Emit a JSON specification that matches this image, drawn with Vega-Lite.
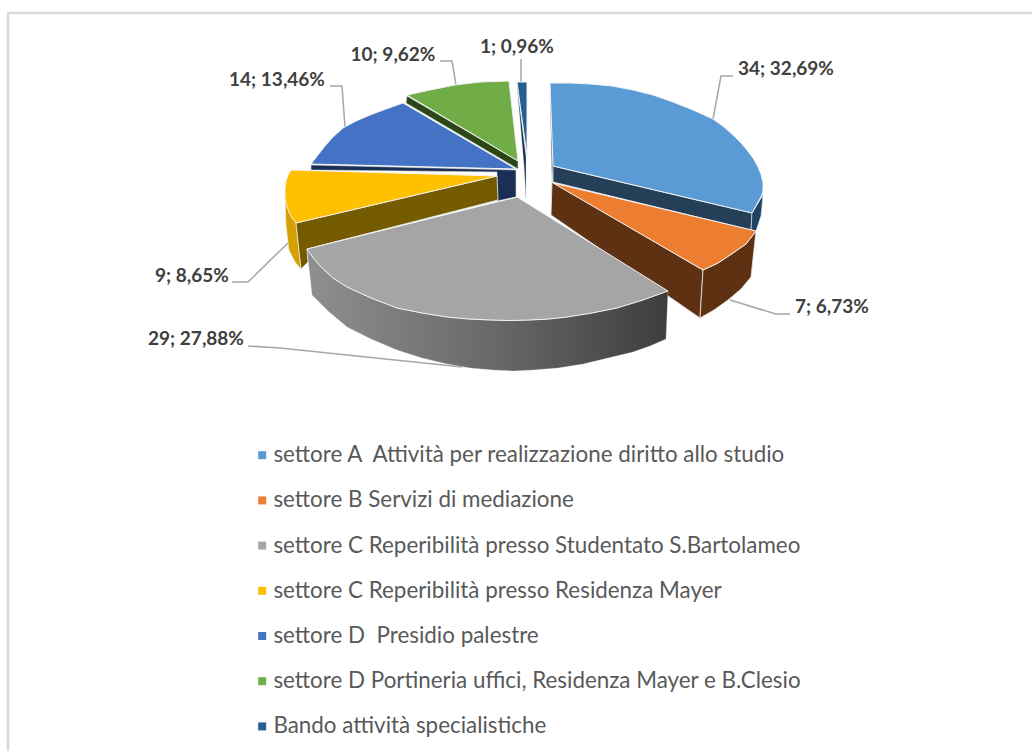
{
"$schema":"https://vega.github.io/schema/vega-lite/v6.json",
"width":1032,"height":751,"padding":0,"autosize":"none","background":"white",
"config":{"view":{"stroke":null},"font":"Lato"},
"datasets":{
"tops":[
{"s":"settore A  Attività per realizzazione diritto allo studio","o":1,"x":550,"y":83},{"s":"settore A  Attività per realizzazione diritto allo studio","o":2,"x":570,"y":83},{"s":"settore A  Attività per realizzazione diritto allo studio","o":3,"x":590,"y":84},{"s":"settore A  Attività per realizzazione diritto allo studio","o":4,"x":612,"y":86},{"s":"settore A  Attività per realizzazione diritto allo studio","o":5,"x":633,"y":90},{"s":"settore A  Attività per realizzazione diritto allo studio","o":6,"x":653,"y":95},{"s":"settore A  Attività per realizzazione diritto allo studio","o":7,"x":673,"y":102},{"s":"settore A  Attività per realizzazione diritto allo studio","o":8,"x":693,"y":110},{"s":"settore A  Attività per realizzazione diritto allo studio","o":9,"x":713,"y":119},{"s":"settore A  Attività per realizzazione diritto allo studio","o":10,"x":724,"y":127},{"s":"settore A  Attività per realizzazione diritto allo studio","o":11,"x":733,"y":135},{"s":"settore A  Attività per realizzazione diritto allo studio","o":12,"x":741,"y":143},{"s":"settore A  Attività per realizzazione diritto allo studio","o":13,"x":747,"y":150},{"s":"settore A  Attività per realizzazione diritto allo studio","o":14,"x":753,"y":158},{"s":"settore A  Attività per realizzazione diritto allo studio","o":15,"x":757,"y":165},{"s":"settore A  Attività per realizzazione diritto allo studio","o":16,"x":761,"y":174},{"s":"settore A  Attività per realizzazione diritto allo studio","o":17,"x":763,"y":183},{"s":"settore A  Attività per realizzazione diritto allo studio","o":18,"x":763,"y":190},{"s":"settore A  Attività per realizzazione diritto allo studio","o":19,"x":762,"y":195},{"s":"settore A  Attività per realizzazione diritto allo studio","o":20,"x":752,"y":213},{"s":"settore A  Attività per realizzazione diritto allo studio","o":21,"x":553,"y":166},{"s":"settore A  Attività per realizzazione diritto allo studio","o":22,"x":550,"y":83},
{"s":"settore B Servizi di mediazione","o":1,"x":553,"y":183},{"s":"settore B Servizi di mediazione","o":2,"x":756,"y":231},{"s":"settore B Servizi di mediazione","o":3,"x":746,"y":244},{"s":"settore B Servizi di mediazione","o":4,"x":733,"y":253},{"s":"settore B Servizi di mediazione","o":5,"x":718,"y":263},{"s":"settore B Servizi di mediazione","o":6,"x":703,"y":270},{"s":"settore B Servizi di mediazione","o":7,"x":553,"y":183},
{"s":"settore C Reperibilità presso Studentato S.Bartolameo","o":1,"x":517,"y":197},{"s":"settore C Reperibilità presso Studentato S.Bartolameo","o":2,"x":668,"y":291},{"s":"settore C Reperibilità presso Studentato S.Bartolameo","o":3,"x":643,"y":300},{"s":"settore C Reperibilità presso Studentato S.Bartolameo","o":4,"x":617,"y":308},{"s":"settore C Reperibilità presso Studentato S.Bartolameo","o":5,"x":592,"y":313},{"s":"settore C Reperibilità presso Studentato S.Bartolameo","o":6,"x":567,"y":317},{"s":"settore C Reperibilità presso Studentato S.Bartolameo","o":7,"x":549,"y":319},{"s":"settore C Reperibilità presso Studentato S.Bartolameo","o":8,"x":530,"y":320},{"s":"settore C Reperibilità presso Studentato S.Bartolameo","o":9,"x":510,"y":320.5},{"s":"settore C Reperibilità presso Studentato S.Bartolameo","o":10,"x":490,"y":320},{"s":"settore C Reperibilità presso Studentato S.Bartolameo","o":11,"x":468,"y":319},{"s":"settore C Reperibilità presso Studentato S.Bartolameo","o":12,"x":447,"y":317},{"s":"settore C Reperibilità presso Studentato S.Bartolameo","o":13,"x":422,"y":313},{"s":"settore C Reperibilità presso Studentato S.Bartolameo","o":14,"x":397,"y":308},{"s":"settore C Reperibilità presso Studentato S.Bartolameo","o":15,"x":371,"y":298},{"s":"settore C Reperibilità presso Studentato S.Bartolameo","o":16,"x":347,"y":287},{"s":"settore C Reperibilità presso Studentato S.Bartolameo","o":17,"x":333,"y":278},{"s":"settore C Reperibilità presso Studentato S.Bartolameo","o":18,"x":322,"y":268},{"s":"settore C Reperibilità presso Studentato S.Bartolameo","o":19,"x":314,"y":259},{"s":"settore C Reperibilità presso Studentato S.Bartolameo","o":20,"x":307,"y":249},{"s":"settore C Reperibilità presso Studentato S.Bartolameo","o":21,"x":517,"y":197},
{"s":"settore C Reperibilità presso Residenza Mayer","o":1,"x":497,"y":176},{"s":"settore C Reperibilità presso Residenza Mayer","o":2,"x":291,"y":170},{"s":"settore C Reperibilità presso Residenza Mayer","o":3,"x":288,"y":175},{"s":"settore C Reperibilità presso Residenza Mayer","o":4,"x":286,"y":181},{"s":"settore C Reperibilità presso Residenza Mayer","o":5,"x":285,"y":188},{"s":"settore C Reperibilità presso Residenza Mayer","o":6,"x":285,"y":196},{"s":"settore C Reperibilità presso Residenza Mayer","o":7,"x":286,"y":204},{"s":"settore C Reperibilità presso Residenza Mayer","o":8,"x":289,"y":212},{"s":"settore C Reperibilità presso Residenza Mayer","o":9,"x":292,"y":218},{"s":"settore C Reperibilità presso Residenza Mayer","o":10,"x":296,"y":223},{"s":"settore C Reperibilità presso Residenza Mayer","o":11,"x":497,"y":176},
{"s":"settore D  Presidio palestre","o":1,"x":516,"y":169},{"s":"settore D  Presidio palestre","o":2,"x":403,"y":103},{"s":"settore D  Presidio palestre","o":3,"x":386,"y":109},{"s":"settore D  Presidio palestre","o":4,"x":370,"y":115},{"s":"settore D  Presidio palestre","o":5,"x":356,"y":121},{"s":"settore D  Presidio palestre","o":6,"x":343,"y":128},{"s":"settore D  Presidio palestre","o":7,"x":333,"y":137},{"s":"settore D  Presidio palestre","o":8,"x":325,"y":146},{"s":"settore D  Presidio palestre","o":9,"x":318,"y":155},{"s":"settore D  Presidio palestre","o":10,"x":311,"y":164},{"s":"settore D  Presidio palestre","o":11,"x":516,"y":169},
{"s":"settore D Portineria uffici, Residenza Mayer e B.Clesio","o":1,"x":518,"y":161},{"s":"settore D Portineria uffici, Residenza Mayer e B.Clesio","o":2,"x":407,"y":95},{"s":"settore D Portineria uffici, Residenza Mayer e B.Clesio","o":3,"x":430,"y":90},{"s":"settore D Portineria uffici, Residenza Mayer e B.Clesio","o":4,"x":455,"y":85},{"s":"settore D Portineria uffici, Residenza Mayer e B.Clesio","o":5,"x":480,"y":82},{"s":"settore D Portineria uffici, Residenza Mayer e B.Clesio","o":6,"x":509,"y":81},{"s":"settore D Portineria uffici, Residenza Mayer e B.Clesio","o":7,"x":518,"y":161},
{"s":"Bando attività specialistiche","o":1,"x":517,"y":82},{"s":"Bando attività specialistiche","o":2,"x":527,"y":82},{"s":"Bando attività specialistiche","o":3,"x":527,"y":156},{"s":"Bando attività specialistiche","o":4,"x":517,"y":82}
],
"sides":[
{"p":"navy","o":1,"x":311,"y":165},{"p":"navy","o":2,"x":516,"y":170},{"p":"navy","o":3,"x":516,"y":197},{"p":"navy","o":4,"x":497,"y":201},{"p":"navy","o":5,"x":497,"y":172},{"p":"navy","o":6,"x":311,"y":170},{"p":"navy","o":7,"x":311,"y":165},
{"p":"greenfront","o":1,"x":407,"y":96},{"p":"greenfront","o":2,"x":518,"y":161},{"p":"greenfront","o":3,"x":518,"y":169},{"p":"greenfront","o":4,"x":406,"y":103},{"p":"greenfront","o":5,"x":407,"y":96},
{"p":"bandofront","o":1,"x":517,"y":85},{"p":"bandofront","o":2,"x":526,"y":157},{"p":"bandofront","o":3,"x":526,"y":199},{"p":"bandofront","o":4,"x":524,"y":165},{"p":"bandofront","o":5,"x":517,"y":85},
{"p":"yellowout","o":1,"x":285,"y":197},{"p":"yellowout","o":2,"x":296,"y":223},{"p":"yellowout","o":3,"x":301,"y":269},{"p":"yellowout","o":4,"x":295,"y":262},{"p":"yellowout","o":5,"x":289,"y":250},{"p":"yellowout","o":6,"x":286,"y":225},{"p":"yellowout","o":7,"x":285,"y":197},
{"p":"yellowcut","o":1,"x":296,"y":223},{"p":"yellowcut","o":2,"x":497,"y":176},{"p":"yellowcut","o":3,"x":498,"y":200},{"p":"yellowcut","o":4,"x":307,"y":249},{"p":"yellowcut","o":5,"x":308,"y":262},{"p":"yellowcut","o":6,"x":301,"y":269},{"p":"yellowcut","o":7,"x":296,"y":223},
{"p":"asliver","o":1,"x":550,"y":90},{"p":"asliver","o":2,"x":553,"y":166},{"p":"asliver","o":3,"x":552,"y":182},{"p":"asliver","o":4,"x":550,"y":90},
{"p":"aband","o":1,"x":553,"y":166},{"p":"aband","o":2,"x":752,"y":213},{"p":"aband","o":3,"x":751,"y":230},{"p":"aband","o":4,"x":553,"y":182},{"p":"aband","o":5,"x":553,"y":166},
{"p":"aout","o":1,"x":752,"y":213},{"p":"aout","o":2,"x":763,"y":195},{"p":"aout","o":3,"x":761,"y":216},{"p":"aout","o":4,"x":756,"y":231},{"p":"aout","o":5,"x":751,"y":230},{"p":"aout","o":6,"x":752,"y":213},
{"p":"bcut","o":1,"x":552,"y":182},{"p":"bcut","o":2,"x":703,"y":270},{"p":"bcut","o":3,"x":700,"y":318},{"p":"bcut","o":4,"x":551,"y":215},{"p":"bcut","o":5,"x":552,"y":182},
{"p":"bout","o":1,"x":703,"y":270},{"p":"bout","o":2,"x":718,"y":263},{"p":"bout","o":3,"x":733,"y":253},{"p":"bout","o":4,"x":746,"y":244},{"p":"bout","o":5,"x":756,"y":231},{"p":"bout","o":6,"x":751,"y":277},{"p":"bout","o":7,"x":741,"y":289},{"p":"bout","o":8,"x":728,"y":300},{"p":"bout","o":9,"x":714,"y":310},{"p":"bout","o":10,"x":700,"y":318},{"p":"bout","o":11,"x":703,"y":270},
{"p":"cout","o":1,"x":307,"y":249},{"p":"cout","o":2,"x":314,"y":259},{"p":"cout","o":3,"x":322,"y":268},{"p":"cout","o":4,"x":333,"y":278},{"p":"cout","o":5,"x":347,"y":287},{"p":"cout","o":6,"x":371,"y":298},{"p":"cout","o":7,"x":397,"y":308},{"p":"cout","o":8,"x":422,"y":313},{"p":"cout","o":9,"x":447,"y":317},{"p":"cout","o":10,"x":468,"y":319},{"p":"cout","o":11,"x":490,"y":320},{"p":"cout","o":12,"x":510,"y":320.5},{"p":"cout","o":13,"x":530,"y":320},{"p":"cout","o":14,"x":549,"y":319},{"p":"cout","o":15,"x":567,"y":317},{"p":"cout","o":16,"x":592,"y":313},{"p":"cout","o":17,"x":617,"y":308},{"p":"cout","o":18,"x":643,"y":300},{"p":"cout","o":19,"x":668,"y":291},{"p":"cout","o":20,"x":666,"y":339},{"p":"cout","o":21,"x":650,"y":346},{"p":"cout","o":22,"x":633,"y":352},{"p":"cout","o":23,"x":608,"y":358},{"p":"cout","o":24,"x":583,"y":364},{"p":"cout","o":25,"x":558,"y":368},{"p":"cout","o":26,"x":533,"y":370},{"p":"cout","o":27,"x":513,"y":371},{"p":"cout","o":28,"x":493,"y":370},{"p":"cout","o":29,"x":470,"y":368},{"p":"cout","o":30,"x":447,"y":364},{"p":"cout","o":31,"x":422,"y":358},{"p":"cout","o":32,"x":397,"y":350},{"p":"cout","o":33,"x":371,"y":339},{"p":"cout","o":34,"x":347,"y":327},{"p":"cout","o":35,"x":328,"y":311},{"p":"cout","o":36,"x":312,"y":295},{"p":"cout","o":37,"x":307,"y":249}
],
"leaders":[
{"l":"a","o":1,"x":713,"y":119},{"l":"a","o":2,"x":721,"y":76},{"l":"a","o":3,"x":733,"y":76},
{"l":"b","o":1,"x":730,"y":300},{"l":"b","o":2,"x":776,"y":314},{"l":"b","o":3,"x":790,"y":314},
{"l":"c","o":1,"x":248,"y":346},{"l":"c","o":2,"x":280,"y":348},{"l":"c","o":3,"x":462,"y":367},
{"l":"y","o":1,"x":232,"y":282},{"l":"y","o":2,"x":248,"y":282},{"l":"y","o":3,"x":289,"y":242},
{"l":"d","o":1,"x":330,"y":86},{"l":"d","o":2,"x":342,"y":86},{"l":"d","o":3,"x":345,"y":127},
{"l":"g","o":1,"x":440,"y":61},{"l":"g","o":2,"x":452,"y":61},{"l":"g","o":3,"x":456,"y":85},
{"l":"s","o":1,"x":521,"y":59},{"l":"s","o":2,"x":521,"y":82}
],
"labels":[
{"t":"34; 32,69%","x":786,"y":69},{"t":"7; 6,73%","x":832,"y":307},{"t":"29; 27,88%","x":196,"y":339},{"t":"9; 8,65%","x":192,"y":276},{"t":"14; 13,46%","x":277,"y":80},{"t":"10; 9,62%","x":393,"y":55},{"t":"1; 0,96%","x":517,"y":47}
],
"frame":[{"o":1,"x":8,"y":751},{"o":2,"x":8,"y":13},{"o":3,"x":1032,"y":13}]
},
"layer":[
{"data":{"name":"frame"},"mark":{"type":"line","stroke":"#d9d9d9","strokeWidth":2.5},
 "encoding":{"x":{"field":"x","type":"quantitative","scale":{"domain":[0,1032],"nice":false,"zero":false},"axis":null},"y":{"field":"y","type":"quantitative","scale":{"domain":[751,0],"nice":false,"zero":false},"axis":null},"order":{"field":"o"}}},
{"data":{"name":"leaders"},"mark":{"type":"line","stroke":"#a6a6a6","strokeWidth":1.5},
 "encoding":{"x":{"field":"x","type":"quantitative","axis":null},"y":{"field":"y","type":"quantitative","axis":null},"detail":{"field":"l"},"order":{"field":"o"}}},
{"data":{"name":"sides"},"transform":[{"filter":"datum.p=='navy'"}],"mark":{"type":"line","filled":true,"fill":"#1a2f55","stroke":"#d8d8d8","strokeWidth":0.6},"encoding":{"x":{"field":"x","type":"quantitative","axis":null},"y":{"field":"y","type":"quantitative","axis":null},"order":{"field":"o"}}},
{"data":{"name":"sides"},"transform":[{"filter":"datum.p=='greenfront'"}],"mark":{"type":"line","filled":true,"fill":"#2a4715","stroke":"#d8d8d8","strokeWidth":0.6},"encoding":{"x":{"field":"x","type":"quantitative","axis":null},"y":{"field":"y","type":"quantitative","axis":null},"order":{"field":"o"}}},
{"data":{"name":"sides"},"transform":[{"filter":"datum.p=='bandofront'"}],"mark":{"type":"line","filled":true,"fill":"#0f2b4a","stroke":"#d8d8d8","strokeWidth":0.4},"encoding":{"x":{"field":"x","type":"quantitative","axis":null},"y":{"field":"y","type":"quantitative","axis":null},"order":{"field":"o"}}},
{"data":{"name":"sides"},"transform":[{"filter":"datum.p=='yellowout'"}],"mark":{"type":"line","filled":true,"fill":"#d6a100","stroke":"#e8e8e8","strokeWidth":0.6},"encoding":{"x":{"field":"x","type":"quantitative","axis":null},"y":{"field":"y","type":"quantitative","axis":null},"order":{"field":"o"}}},
{"data":{"name":"sides"},"transform":[{"filter":"datum.p=='yellowcut'"}],"mark":{"type":"line","filled":true,"fill":"#745b00","stroke":"#e8e8e8","strokeWidth":0.8},"encoding":{"x":{"field":"x","type":"quantitative","axis":null},"y":{"field":"y","type":"quantitative","axis":null},"order":{"field":"o"}}},
{"data":{"name":"sides"},"transform":[{"filter":"datum.p=='asliver'"}],"mark":{"type":"line","filled":true,"fill":"#243f57","stroke":"#d8d8d8","strokeWidth":0.4},"encoding":{"x":{"field":"x","type":"quantitative","axis":null},"y":{"field":"y","type":"quantitative","axis":null},"order":{"field":"o"}}},
{"data":{"name":"sides"},"transform":[{"filter":"datum.p=='aband'"}],"mark":{"type":"line","filled":true,"fill":"#243f57","stroke":"#e8e8e8","strokeWidth":0.8},"encoding":{"x":{"field":"x","type":"quantitative","axis":null},"y":{"field":"y","type":"quantitative","axis":null},"order":{"field":"o"}}},
{"data":{"name":"sides"},"transform":[{"filter":"datum.p=='aout'"}],"mark":{"type":"line","filled":true,"fill":"#1f4364","stroke":"#e8e8e8","strokeWidth":0.6},"encoding":{"x":{"field":"x","type":"quantitative","axis":null},"y":{"field":"y","type":"quantitative","axis":null},"order":{"field":"o"}}},
{"data":{"name":"sides"},"transform":[{"filter":"datum.p=='bcut'"}],"mark":{"type":"line","filled":true,"fill":"#5f3113","stroke":"#e8e8e8","strokeWidth":0.8},"encoding":{"x":{"field":"x","type":"quantitative","axis":null},"y":{"field":"y","type":"quantitative","axis":null},"order":{"field":"o"}}},
{"data":{"name":"sides"},"transform":[{"filter":"datum.p=='bout'"}],"mark":{"type":"line","filled":true,"fill":"#5f3113","stroke":"#e8e8e8","strokeWidth":0.8},"encoding":{"x":{"field":"x","type":"quantitative","axis":null},"y":{"field":"y","type":"quantitative","axis":null},"order":{"field":"o"}}},
{"data":{"name":"sides"},"transform":[{"filter":"datum.p=='cout'"}],"mark":{"type":"line","filled":true,"fill":{"gradient":"linear","x1":0,"y1":0,"x2":1,"y2":0,"stops":[{"offset":0,"color":"#8f8f8f"},{"offset":0.55,"color":"#666666"},{"offset":1,"color":"#3d3d3d"}]},"stroke":"#e8e8e8","strokeWidth":0.3},"encoding":{"x":{"field":"x","type":"quantitative","axis":null},"y":{"field":"y","type":"quantitative","axis":null},"order":{"field":"o"}}},
{"data":{"name":"tops"},"mark":{"type":"line","filled":true,"stroke":"#f2f2f2","strokeWidth":1},
 "encoding":{"x":{"field":"x","type":"quantitative","axis":null},"y":{"field":"y","type":"quantitative","axis":null},"order":{"field":"o"},
 "color":{"field":"s","type":"nominal","title":null,
  "scale":{"domain":["settore A  Attività per realizzazione diritto allo studio","settore B Servizi di mediazione","settore C Reperibilità presso Studentato S.Bartolameo","settore C Reperibilità presso Residenza Mayer","settore D  Presidio palestre","settore D Portineria uffici, Residenza Mayer e B.Clesio","Bando attività specialistiche"],"range":["#5b9bd5","#ed7d31","#a5a5a5","#ffc000","#4472c4","#70ad47","#255e91"]},
  "legend":{"orient":"none","legendX":251,"legendY":444,"symbolType":"square","symbolSize":64,"symbolStrokeWidth":0,"labelFont":"Lato","labelFontSize":22.4,"labelColor":"#595959","labelLimit":700,"rowPadding":22.2,"labelOffset":0,"padding":0,"labelExpr":"replace(datum.label,'  ','\u00a0 ')"}}}},
{"data":{"name":"labels"},"mark":{"type":"text","font":"Lato","fontWeight":"bold","fontSize":19,"color":"#404040","align":"center","baseline":"middle"},
 "encoding":{"x":{"field":"x","type":"quantitative","axis":null},"y":{"field":"y","type":"quantitative","axis":null},"text":{"field":"t"}}}
]
}
